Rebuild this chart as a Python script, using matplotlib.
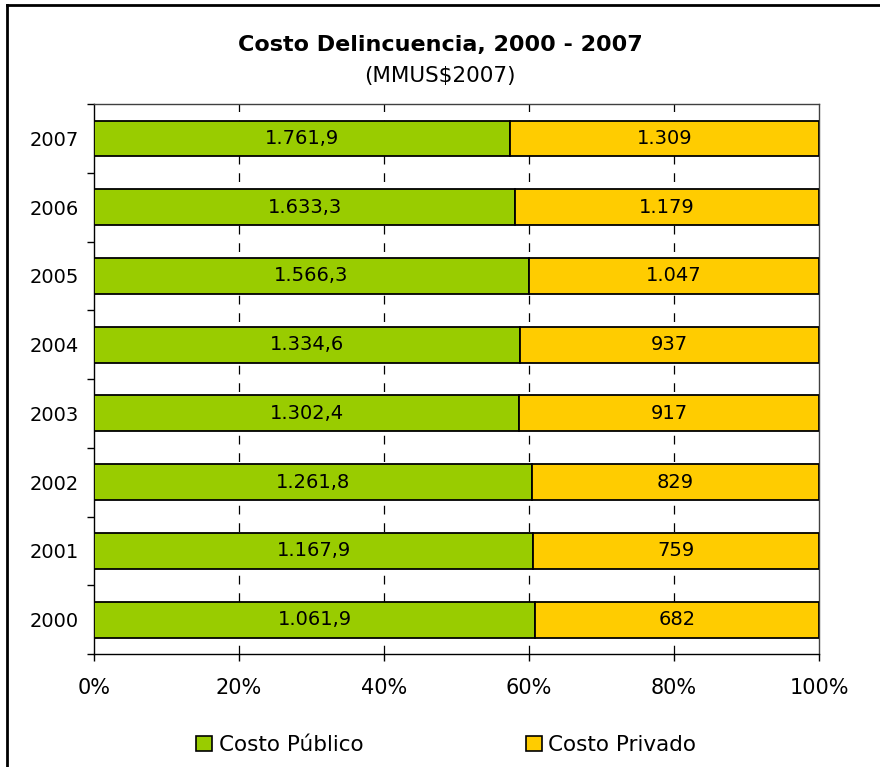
import numpy as np
import matplotlib.pyplot as plt
from matplotlib.patches import Patch
from matplotlib.lines import Line2D

# data (MMUS$2007)
years = ["2000", "2001", "2002", "2003", "2004", "2005", "2006", "2007"]
costo_publico = [1061.9, 1167.9, 1261.8, 1302.4, 1334.6, 1566.3, 1633.3, 1761.9]
costo_privado = [682, 759, 829, 917, 937, 1047, 1179, 1309]
x_ticks = [0, 20, 40, 60, 80, 100]

GREEN = "#99CC00"
YELLOW = "#FFCC00"


def fmt_es(v, dec):
    s = f"{v:,.{dec}f}"
    return s.replace(",", "X").replace(".", ",").replace("X", ".")


pub = np.array(costo_publico)
priv = np.array(costo_privado)
tot = pub + priv
pub_pct = pub / tot * 100
priv_pct = priv / tot * 100
y = np.arange(len(years))

plt.rcParams["font.family"] = "DejaVu Sans"

fig = plt.figure(figsize=(8.8, 7.67), dpi=100)
ax = fig.add_axes([94 / 880, 1 - 654 / 767, (819 - 94) / 880, (654 - 104) / 767])

h = 0.52
ax.barh(y, pub_pct, height=h, color=GREEN, edgecolor="black", linewidth=1.3, zorder=3)
ax.barh(y, priv_pct, left=pub_pct, height=h, color=YELLOW, edgecolor="black",
        linewidth=1.3, zorder=3)

for i in range(len(years)):
    ax.text(pub_pct[i] / 2, y[i], fmt_es(pub[i], 1), ha="center", va="center",
            fontsize=14, zorder=4)
    ax.text(pub_pct[i] + priv_pct[i] / 2, y[i], fmt_es(priv[i], 0), ha="center",
            va="center", fontsize=14, zorder=4)

ax.set_xlim(0, 100)
ax.set_ylim(-0.5, len(years) - 0.5)

ax.set_xticks(x_ticks)
ax.set_xticklabels([f"{t}%" for t in x_ticks], fontsize=15)
ax.tick_params(axis="x", direction="out", length=5, width=1, pad=12)

ax.set_yticks(y)
ax.set_yticklabels(years, fontsize=14)
ax.set_yticks(np.arange(-0.5, len(years), 1), minor=True)
ax.tick_params(axis="y", which="major", length=0, pad=11)
ax.tick_params(axis="y", which="minor", direction="out", length=5, width=1)

for t in x_ticks[1:-1]:
    ax.axvline(t, color="black", linestyle=(0, (7, 7)), linewidth=0.9, zorder=1)

for side in ("left", "bottom"):
    ax.spines[side].set_color("black")
    ax.spines[side].set_linewidth(1.0)
for side in ("top", "right"):
    ax.spines[side].set_color("#404040")
    ax.spines[side].set_linewidth(1.0)

fig.text(0.5, 1 - 45 / 767, "Costo Delincuencia, 2000 - 2007", ha="center",
         va="center", fontsize=16, fontweight="bold")
fig.text(0.5, 1 - 76 / 767, "(MMUS$2007)", ha="center", va="center", fontsize=15.5)

handles = [
    Patch(facecolor=GREEN, edgecolor="black", linewidth=1.2, label="Costo Público"),
    Patch(facecolor=YELLOW, edgecolor="black", linewidth=1.2, label="Costo Privado"),
]
fig.legend(handles=handles, loc="center", bbox_to_anchor=(0.507, 1 - 745 / 767),
           ncol=2, frameon=False, fontsize=15.5, handlelength=0.75, handleheight=0.75,
           handletextpad=0.3, columnspacing=7.55)

# outer frame (top and left edges only visible)
fig.add_artist(Line2D([7 / 880, 7 / 880], [0, 1 - 5 / 767], transform=fig.transFigure,
                      color="black", linewidth=2))
fig.add_artist(Line2D([7 / 880, 1], [1 - 5 / 767, 1 - 5 / 767], transform=fig.transFigure,
                      color="black", linewidth=2))

fig.savefig("out.png", dpi=100)
